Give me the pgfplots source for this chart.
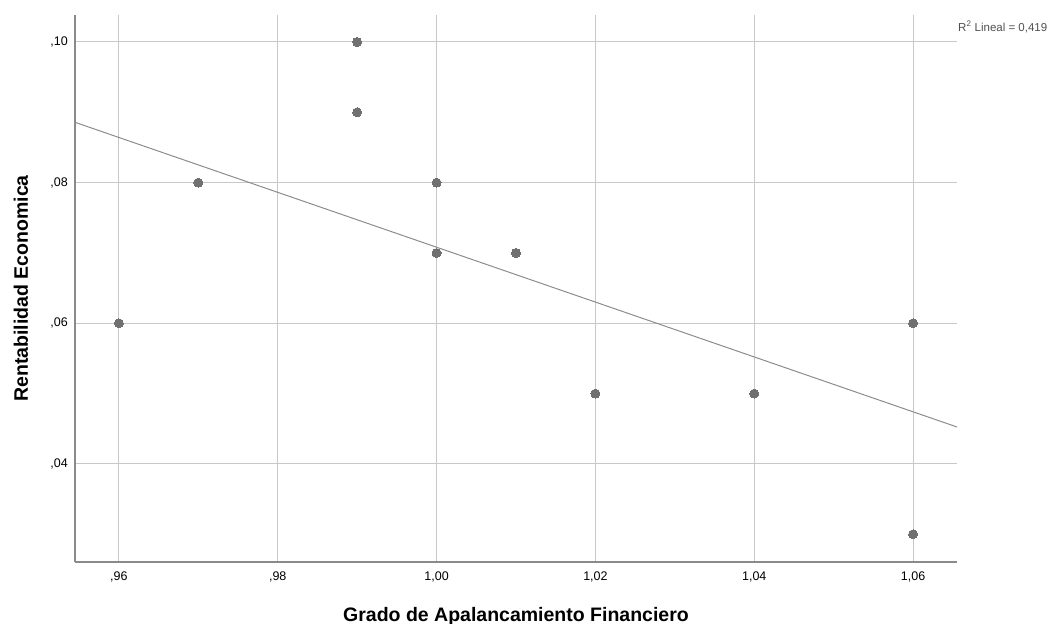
\documentclass[border=0pt]{standalone}
\usepackage{pgfplots}
\pgfplotsset{compat=1.18}
\usepackage{fontspec}
\setmainfont{Liberation Sans}
\definecolor{gridc}{HTML}{C8C8C8}
\definecolor{axc}{HTML}{8A8A8A}
\definecolor{linec}{HTML}{8C8C8C}
\definecolor{markc}{HTML}{707070}
\definecolor{txtc}{HTML}{505050}
\begin{document}
\begin{tikzpicture}
\path[use as bounding box] (-75bp,-62bp) rectangle (989bp,562bp);
\begin{axis}[
  at={(0,0)}, anchor=south west,
  scale only axis, width=882bp, height=547bp,
  xmin=0.95447, xmax=1.06553,
  ymin=0.02605, ymax=0.10384,
  axis x line=bottom, axis y line=left,
  axis line style={-, color=axc, line width=1.2bp},
  xtick={0.96,0.98,1.00,1.02,1.04,1.06},
  xticklabels={{,96},{,98},{1,00},{1,02},{1,04},{1,06}},
  ytick={0.04,0.06,0.08,0.10},
  yticklabels={{,04},{,06},{,08},{,10}},
  major tick length=0pt,
  grid=major,
  major grid style={color=gridc, line width=1bp},
  xticklabel style={font=\fontsize{12.5bp}{14bp}\selectfont, anchor=north, inner sep=0pt, yshift=-10bp},
  yticklabel style={font=\fontsize{12.5bp}{14bp}\selectfont, anchor=east, inner sep=0pt, xshift=-7bp},
  xlabel={Grado de Apalancamiento Financiero},
  ylabel={Rentabilidad Economica},
  xlabel style={font=\fontsize{19.5bp}{22bp}\selectfont\bfseries, at={(axis description cs:0.5,-0.1079)}, anchor=base, inner sep=0pt},
  ylabel style={font=\fontsize{19.5bp}{22bp}\selectfont\bfseries, at={(axis description cs:-0.0533,0.5)}, anchor=base, rotate=0, inner sep=0pt},
  clip=false,
]
\addplot[color=linec, line width=1bp, no marks] coordinates {(0.95447,0.08858) (1.06553,0.04525)};
\addplot[only marks, mark=*, color=markc, mark size=4.5bp, mark options={draw=markc, fill=markc, line width=0pt}] coordinates {
  (0.96,0.06) (0.97,0.08) (0.99,0.10) (0.99,0.09) (1.00,0.08) (1.00,0.07)
  (1.01,0.07) (1.02,0.05) (1.04,0.05) (1.06,0.06) (1.06,0.03)
};
\node[anchor=west, inner sep=0pt, text=txtc, font=\fontsize{11.5bp}{13bp}\selectfont] at (rel axis cs:1,1) [yshift=-12bp, xshift=1bp] {R\textsuperscript{2} Lineal = 0,419};
\end{axis}
\end{tikzpicture}
\end{document}
